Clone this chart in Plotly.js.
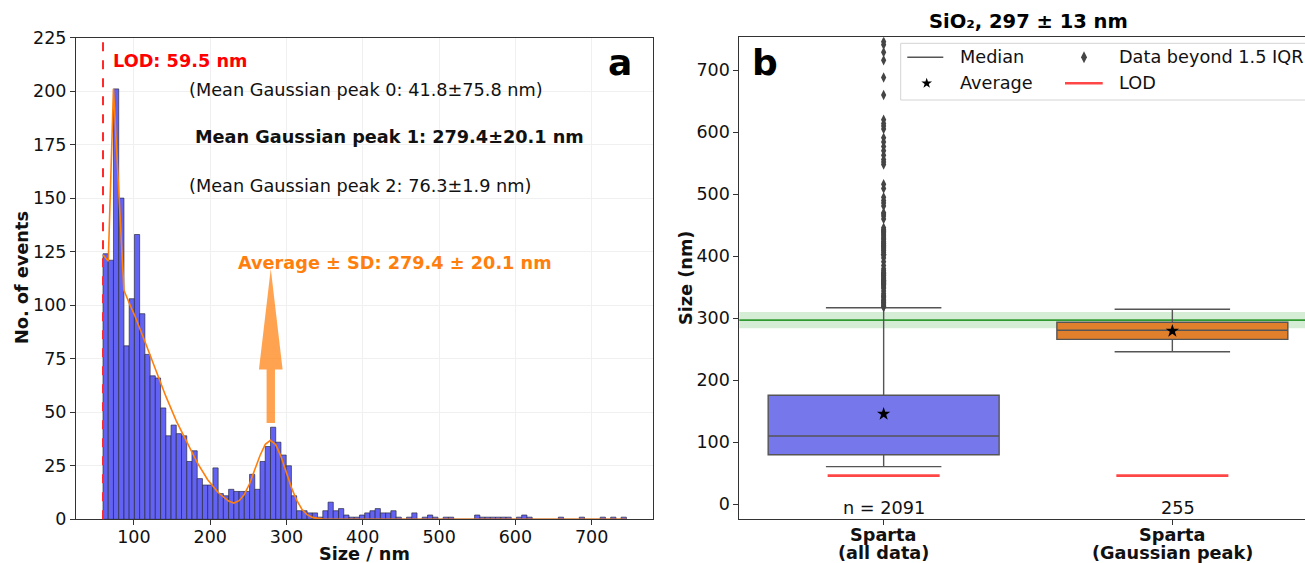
<!DOCTYPE html>
<html>
<head>
<meta charset="utf-8">
<script src="https://cdn.plot.ly/plotly-3.0.1.min.js"></script>
<style>html,body{margin:0;padding:0;background:#fff;}#chart{width:1305px;height:563px;}</style>
</head>
<body>
<div id="chart"></div>
<script>
// ---------------- DATA ----------------
// Panel a: histogram (100 bins starting at the LOD)
const binStart = 59.5;
const binWidth = 6.86;
const counts = [
  124,121,201,150,81,103,133,96,77,67,
  66,52,39,44,40,39,27,32,19,16,
  16,24,12,11,14,13,13,13,21,14,
  27,34,43,36,30,25,11,4,4,3,
  3,1,4,8,4,5,2,1,1,2,
  3,4,5,3,3,4,1,0,1,3,
  0,1,2,1,0,1,1,0,0,0,
  0,2,1,1,1,1,1,1,0,1,
  2,1,0,0,0,0,0,1,0,0,
  0,1,0,0,0,1,0,1,0,1
];
// Gaussian-mixture fit curve
const fitX = [59.5,66.4,73.2,80.1,86.9,93.8,100.7,114.4,128.1,141.8,155.5,169.3,183.0,196.7,210.4,224.1,231.0,237.9,244.7,251.6,258.4,265.3,272.2,279.0,285.9,292.7,299.6,306.5,313.3,320.2,327.0,333.9,347.6,361.3,745.5];
const fitY = [123.6,120.5,201,155,107,101,95.5,83,70,57.5,46,36,26.5,18.5,12.5,8.5,7.6,8.7,11.6,16.6,23.0,29.8,35.0,36.9,34.9,29.4,22.1,14.8,8.9,4.7,2.2,0.9,0.1,0,0];
const lodValue = 59.5;
const peakMean = 279.4;
const arrowTail = 45, arrowHeadBase = 70, arrowTip = 117;
const xTicksA = [100,200,300,400,500,600,700];
const yTicksA = [0,25,50,75,100,125,150,175,200,225];

// Panel b: box plots
const boxCats = ['Sparta<br>(all data)', 'Sparta<br>(Gaussian peak)'];
const q1 = [80, 266];
const med = [110, 280.6];
const q3 = [175.8, 293.5];
const lowW = [60.7, 246];
const upW = [317, 314.5];
const means = [145.6, 279.4];
const lodBox = [46.2, 46.2];
const nLabels = ['n = 2091', '255'];
const refSize = 297, refSD = 13;
const fliersAll = [318,319,321,323,325,326,328,330,333,335,337,340,344,348,350,352,354,
  355,356,357,358,359,360,360.5,361,362,364,366,368,369,370,372,373,374,377,380,385,391,
  397,401,403,406,409,410,412,414,416,417,418,420,421,423,424,427,429,431,434,436,438,440,
  441,443,446,460,465,468,470,481,486,490,495,509,516,548,552,556,563,570,577,584,591,
  605,610,614,620,660,688,716,729,741,746];
const yTicksB = [0,100,200,300,400,500,600,700];

// ---------------- LAYOUT HELPERS ----------------
const W = 1305, H = 563;
const X = p => p / W, Y = p => 1 - p / H;
const FONT = 'DejaVu Sans';
const blue = '#6262f4', boxBlue = '#7777ec', boxOrange = '#e1802c', greyLine = '#555555';

const centers = counts.map((c, i) => binStart + (i + 0.5) * binWidth);

const traces = [
  {type:'bar', x:centers, y:counts, width:binWidth, xaxis:'x', yaxis:'y',
   marker:{color:blue, line:{color:'rgba(40,40,60,0.85)', width:0.8}}, showlegend:false, hoverinfo:'skip'},
  {type:'scatter', mode:'lines', x:fitX, y:fitY, xaxis:'x', yaxis:'y',
   line:{color:'#ff7f0e', width:1.6}, showlegend:false, hoverinfo:'skip'},
];

// boxes
[0,1].forEach(i => {
  traces.push({type:'box', x:[i], q1:[q1[i]], median:[med[i]], q3:[q3[i]],
    lowerfence:[lowW[i]], upperfence:[upW[i]], width:0.8, whiskerwidth:0.5,
    fillcolor: i===0 ? boxBlue : boxOrange, line:{color:greyLine, width:1.4},
    boxpoints:false, xaxis:'x2', yaxis:'y2', showlegend:false, hoverinfo:'skip'});
});
// fliers
traces.push({type:'scatter', mode:'markers', x:fliersAll.map(() => 0), y:fliersAll,
  xaxis:'x2', yaxis:'y2', marker:{symbol:'diamond-tall', size:7.5, color:'#454545'},
  showlegend:false, hoverinfo:'skip', cliponaxis:true});
// means
traces.push({type:'scatter', mode:'markers', x:[0,1], y:means, xaxis:'x2', yaxis:'y2',
  marker:{symbol:'star', size:10, color:'#000'}, showlegend:false, hoverinfo:'skip'});
// LOD lines in panel b
[0,1].forEach(i => {
  traces.push({type:'scatter', mode:'lines', x:[i-0.194, i+0.194], y:[lodBox[i], lodBox[i]],
    xaxis:'x2', yaxis:'y2', line:{color:'#ff4646', width:2.6}, showlegend:false, hoverinfo:'skip'});
});
// legend markers on a pixel overlay axis
traces.push({type:'scatter', mode:'markers', x:[926.7], y:[83.3], xaxis:'x3', yaxis:'y3',
  marker:{symbol:'star', size:8, color:'#000'}, showlegend:false, hoverinfo:'skip', cliponaxis:false});
traces.push({type:'scatter', mode:'markers', x:[1084], y:[57.3], xaxis:'x3', yaxis:'y3',
  marker:{symbol:'diamond-tall', size:8.5, color:'#454545'}, showlegend:false, hoverinfo:'skip', cliponaxis:false});

const sw = 5.5, hw = 15.5;
const arrowPath = `M ${peakMean-sw} ${arrowTail} L ${peakMean-sw} ${arrowHeadBase} L ${peakMean-hw} ${arrowHeadBase} ` +
  `L ${peakMean} ${arrowTip} L ${peakMean+hw} ${arrowHeadBase} L ${peakMean+sw} ${arrowHeadBase} L ${peakMean+sw} ${arrowTail} Z`;

const shapes = [
  {type:'line', xref:'x', yref:'y domain', x0:lodValue, x1:lodValue, y0:0, y1:1,
   line:{color:'#ff2a2a', width:2, dash:'dash'}, layer:'above'},
  {type:'path', xref:'x', yref:'y', path:arrowPath, fillcolor:'rgba(255,127,14,0.72)', line:{width:0}, layer:'above'},
  {type:'rect', xref:'x2 domain', yref:'y2', x0:0, x1:1, y0:refSize-refSD, y1:refSize+refSD,
   fillcolor:'rgba(44,160,44,0.2)', line:{width:0}, layer:'below'},
  {type:'line', xref:'x2 domain', yref:'y2', x0:0, x1:1, y0:refSize, y1:refSize,
   line:{color:'#2f9a2f', width:1.6}, layer:'below'},
  {type:'rect', xref:'paper', yref:'paper', x0:X(900.7), x1:X(1312), y0:Y(100), y1:Y(43.3),
   fillcolor:'rgba(255,255,255,0.85)', line:{color:'#d4d4d4', width:1}, layer:'below'},
  {type:'line', xref:'paper', yref:'paper', x0:X(907.3), x1:X(943.3), y0:Y(57.3), y1:Y(57.3),
   line:{color:greyLine, width:1.4}, layer:'above'},
  {type:'line', xref:'paper', yref:'paper', x0:X(1065), x1:X(1102.7), y0:Y(83.3), y1:Y(83.3),
   line:{color:'#ff4646', width:2.6}, layer:'above'},
];

const ann = (text, px, py, opts={}) => Object.assign({
  text, x:X(px), y:Y(py), xref:'paper', yref:'paper', showarrow:false,
  xanchor:'center', yanchor:'middle', font:{family:FONT, size:17.7, color:'#111'}
}, opts);

const annotations = [
  ann('<b>LOD: 59.5 nm</b>', 111, 61, {xanchor:'left', font:{family:FONT, size:17.7, color:'#ff0000'}}),
  ann('(Mean Gaussian peak 0: 41.8±75.8 nm)', 187, 90, {xanchor:'left'}),
  ann('<b>Mean Gaussian peak 1: 279.4±20.1 nm</b>', 193, 137, {xanchor:'left'}),
  ann('(Mean Gaussian peak 2: 76.3±1.9 nm)', 187, 186, {xanchor:'left'}),
  ann('<b>Average ± SD: 279.4 ± 20.1 nm</b>', 236, 263, {xanchor:'left', font:{family:FONT, size:17.7, color:'#ff7f0e'}}),
  ann('<b>a</b>', 620, 62, {font:{family:FONT, size:36, color:'#000'}}),
  ann('<b>b</b>', 765, 62, {font:{family:FONT, size:36, color:'#000'}}),
  ann('<b>No. of events</b>', 22, 278, {textangle:-90}),
  ann('<b>Size / nm</b>', 364.4, 553.5),
  ann('<b>Size (nm)</b>', 686, 278, {textangle:-90}),
  ann('<b>SiO₂, 297 ± 13 nm</b>', 1028, 22, {font:{family:FONT, size:19.5, color:'#000'}}),
  ann('<b>Sparta</b>', 883.3, 535), ann('<b>(all data)</b>', 883.3, 553),
  ann('<b>Sparta</b>', 1172, 535), ann('<b>(Gaussian peak)</b>', 1172, 553),
  {text:nLabels[0], x:0, y:-5.2, xref:'x2', yref:'y2', showarrow:false, xanchor:'center', yanchor:'middle', font:{family:FONT, size:17.7, color:'#111'}},
  {text:nLabels[1], x:1.02, y:-5.2, xref:'x2', yref:'y2', showarrow:false, xanchor:'center', yanchor:'middle', font:{family:FONT, size:17.7, color:'#111'}},
  ann('Median', 958.3, 57.3, {xanchor:'left'}),
  ann('Average', 958.3, 83.3, {xanchor:'left'}),
  ann('Data beyond 1.5 IQR', 1116.7, 57.3, {xanchor:'left'}),
  ann('LOD', 1116.7, 83.3, {xanchor:'left'}),
];

const tickFont = {family:FONT, size:17.5, color:'#111'};
const layout = {
  width:W, height:H, margin:{l:0, r:0, t:0, b:0}, paper_bgcolor:'#fff', plot_bgcolor:'rgba(0,0,0,0)',
  showlegend:false, boxmode:'overlay', bargap:0,
  xaxis:{domain:[X(76), X(652.7)], range:[24.1, 780], tickvals:xTicksA, ticks:'outside', ticklen:5,
    tickcolor:'#333', showline:true, linecolor:'#333', linewidth:1, mirror:true, showgrid:true,
    gridcolor:'#f0f0f0', zeroline:false, tickfont:tickFont, automargin:false, anchor:'y', ticklabelstandoff:-3},
  yaxis:{domain:[Y(519.3), Y(37.5)], range:[0, 225], tickvals:yTicksA, ticks:'outside', ticklen:5,
    tickcolor:'#333', showline:true, linecolor:'#333', linewidth:1, mirror:true, showgrid:true,
    gridcolor:'#f0f0f0', zeroline:false, tickfont:tickFont, automargin:false, anchor:'x'},
  xaxis2:{domain:[X(739.3), 1], range:[-0.5, -0.5 + (W - 739.3) / 288.7], tickvals:[0,1], showticklabels:false,
    ticks:'outside', ticklen:5, tickcolor:'#333', showline:true, linecolor:'#333', linewidth:1, mirror:true,
    showgrid:false, zeroline:false, automargin:false, anchor:'y2'},
  yaxis2:{domain:[Y(519.3), Y(37.3)], range:[-24.2, 753], tickvals:yTicksB, ticks:'outside', ticklen:5,
    tickcolor:'#333', showline:true, linecolor:'#333', linewidth:1, mirror:false, showgrid:false,
    zeroline:false, tickfont:tickFont, automargin:false, anchor:'x2'},
  xaxis3:{domain:[0,1], range:[0, W], visible:false, fixedrange:true, anchor:'y3'},
  yaxis3:{domain:[0,1], range:[H, 0], visible:false, fixedrange:true, anchor:'x3'},
  shapes, annotations,
};

Plotly.newPlot('chart', traces, layout, {staticPlot:true, displayModeBar:false});
</script>
</body>
</html>
